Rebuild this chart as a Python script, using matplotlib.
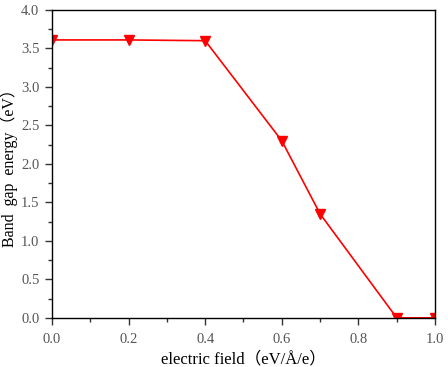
import numpy as np
import matplotlib
matplotlib.use('Agg')
import matplotlib.pyplot as plt
from matplotlib.ticker import MultipleLocator, FormatStrFormatter

plt.rcParams['font.family'] = ['Liberation Serif', 'Noto Sans CJK SC']

# data
field = [0.0, 0.2, 0.4, 0.6, 0.7, 0.9, 1.0]
gap = [3.61, 3.61, 3.60, 2.30, 1.35, 0.0, 0.0]

fig = plt.figure(figsize=(4.48, 3.67), dpi=100)
ax = fig.add_axes([0.116, 0.134, 0.855, 0.839])

ax.plot(field, gap, color='red', lw=1.2, marker='v', ms=6.5, mfc='red', mec='red')

ax.set_xlim(0, 1.0)
ax.set_ylim(0, 4.0)
ax.xaxis.set_major_locator(MultipleLocator(0.2))
ax.xaxis.set_minor_locator(MultipleLocator(0.1))
ax.yaxis.set_major_locator(MultipleLocator(0.5))
ax.yaxis.set_minor_locator(MultipleLocator(0.25))
ax.xaxis.set_major_formatter(FormatStrFormatter('%.1f'))
ax.yaxis.set_major_formatter(FormatStrFormatter('%.1f'))
ax.tick_params(which='both', direction='out', top=False, right=False,
               labelsize=10.5, colors='#333333', labelcolor='#555555', pad=4)
ax.tick_params(axis='x', pad=6)
ax.tick_params(which='major', length=5, width=1)
ax.tick_params(which='minor', length=3, width=1)
for s in ax.spines.values():
    s.set_linewidth(1.0)

ax.set_xlabel('electric field（eV/Å/e）', fontsize=12)
ax.set_ylabel('Band  gap  energy（eV）', fontsize=11.5)
ax.yaxis.set_label_coords(-0.088, 0.5)

fig.savefig('out.png', dpi=100)
